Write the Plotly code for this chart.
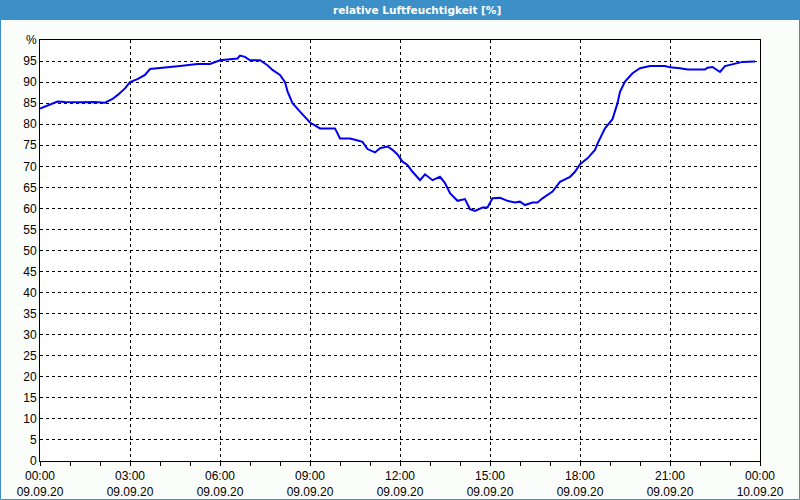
import plotly.graph_objects as go

times = ["00:00","00:10","00:20","00:35","00:50","01:20","01:50","02:10","02:25","02:35","02:50",
         "03:00","03:15","03:30","03:40","04:00","04:40","05:15","05:40","06:00","06:35","06:40",
         "06:50","07:00","07:20","07:35","07:45","08:00","08:10","08:15","08:25","08:40","09:00",
         "09:20","09:50","10:00","10:20","10:30","10:45","10:55","11:10","11:20","11:35","11:45",
         "11:55","12:05","12:15","12:25","12:40","12:50","13:05","13:20","13:30","13:40","13:55",
         "14:10","14:20","14:30","14:45","14:55","15:05","15:20","15:35","15:50","16:00","16:10",
         "16:25","16:35","16:45","17:05","17:20","17:40","17:50","18:00","18:15","18:30","18:35",
         "18:50","19:05","19:15","19:20","19:30","19:45","20:00","20:20","20:50","21:00","21:20",
         "21:35","22:10","22:15","22:25","22:40","22:50","23:05","23:25","23:50"]
humidity = [83.7,84.2,84.6,85.4,85.3,85.2,85.3,85.1,86.0,86.9,88.5,
            90.0,90.7,91.7,93.1,93.3,93.8,94.3,94.3,95.2,95.6,96.3,
            96.0,95.2,95.2,94.0,92.9,91.7,90.0,87.8,85.0,83.0,80.4,
            79.0,79.0,76.6,76.6,76.3,75.8,74.1,73.3,74.3,74.7,73.9,
            72.8,71.1,70.3,68.7,66.7,68.1,66.7,67.5,66.0,63.6,61.8,
            62.2,59.8,59.4,60.2,60.2,62.4,62.5,61.8,61.4,61.6,60.8,
            61.4,61.4,62.4,64.0,66.3,67.5,68.7,70.5,71.9,73.9,75.4,
            79.0,81.2,85.0,87.7,90.1,92.1,93.3,93.8,93.8,93.5,93.3,
            93.0,93.0,93.4,93.6,92.4,93.8,94.2,94.8,94.9]
x_vals = ["2020-09-09 " + t for t in times]

y_ticks = list(range(0, 101, 5))
y_text = [str(v) for v in y_ticks[:-1]] + ["%"]

title_text = "relative Luftfeuchtigkeit [%]"

W, H = 800, 500
ML, MR, MT, MB = 40, 40, 40, 39
PW, PH = W - ML - MR, H - MT - MB

fig = go.Figure()
fig.add_trace(go.Scatter(x=x_vals, y=humidity, mode="lines",
                         line=dict(color="#0000f0", width=2), hoverinfo="skip"))

font = dict(family="Liberation Sans, Arial, sans-serif", size=11, color="#000000")

fig.update_layout(
    width=W, height=H,
    margin=dict(l=ML, r=MR, t=MT, b=MB, pad=0, autoexpand=False),
    paper_bgcolor="#fbfdfb", plot_bgcolor="#ffffff",
    showlegend=False, font=font,
    xaxis=dict(
        type="date", range=["2020-09-09 00:00", "2020-09-10 00:00"],
        dtick=3 * 3600 * 1000, tick0="2020-09-09 00:00",
        tickformat="%H:%M<br>%d.%m.%y", automargin=False,
        showgrid=True, gridcolor="#000000", griddash="3px,3px", gridwidth=1,
        showline=True, linecolor="#000000", linewidth=1, mirror=True,
        ticks="outside", ticklen=4, tickcolor="#000000",
        minor=dict(dtick=3600 * 1000, ticks="outside", ticklen=4, tickcolor="#000000", showgrid=False),
        zeroline=False, tickfont=dict(family=font["family"], size=12, color="#000000"),
    ),
    yaxis=dict(
        range=[0, 100], tickvals=y_ticks, ticktext=y_text, automargin=False,
        showgrid=True, gridcolor="#000000", griddash="3px,3px", gridwidth=1,
        showline=True, linecolor="#000000", linewidth=1, mirror=True,
        ticks="", zeroline=False, tickfont=dict(family=font["family"], size=12, color="#000000"),
    ),
    shapes=[
        dict(type="rect", xref="paper", yref="paper",
             x0=-ML / PW, x1=1 + MR / PW, y0=1 + (MT - 20) / PH, y1=1 + MT / PH,
             fillcolor="#3c8fc7", line=dict(width=0), layer="above"),
        dict(type="rect", xref="paper", yref="paper",
             x0=-(ML - 0.5) / PW, x1=1 + (MR - 0.5) / PW, y0=-(MB - 0.5) / PH, y1=1 + MT / PH,
             fillcolor="rgba(0,0,0,0)", line=dict(color="#3c8fc7", width=1), layer="above"),
    ],
    annotations=[
        dict(text="<b>" + title_text + "</b>", xref="paper", yref="paper",
             x=(417 - ML) / PW, y=1 + (MT - 10) / PH, xanchor="center", yanchor="middle",
             showarrow=False, font=dict(family="DejaVu Sans, sans-serif", size=10.5, color="#ffffff")),
    ],
)

fig.write_html("out.html")
